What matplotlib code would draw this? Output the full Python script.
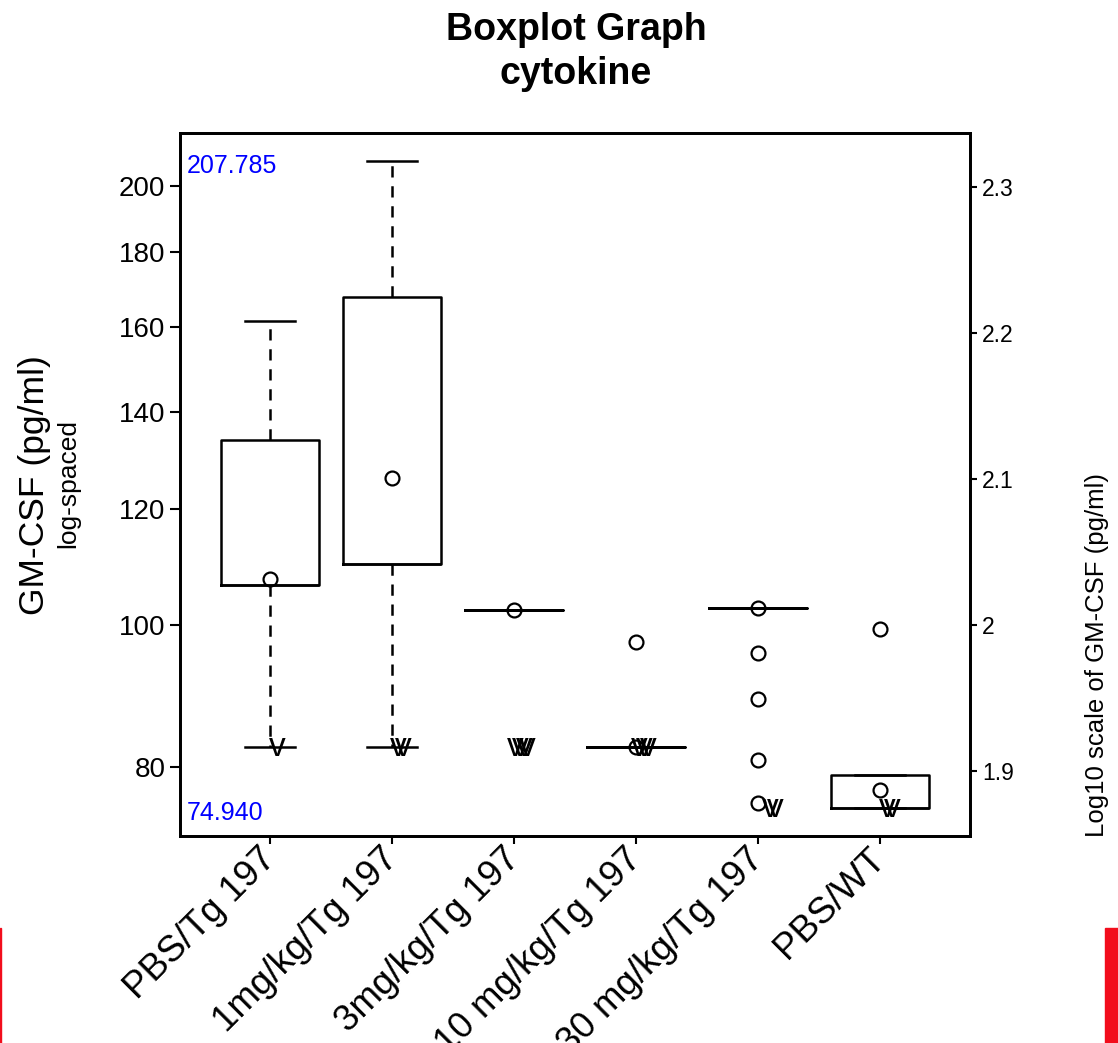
import numpy as np
import matplotlib
matplotlib.use("Agg")
import matplotlib.pyplot as plt
import matplotlib.transforms as mtransforms
from matplotlib.patches import Rectangle
from matplotlib.ticker import NullLocator

plt.rcParams['font.family'] = ['Liberation Sans', 'DejaVu Sans']

# data
groups = ['PBS/Tg 197', '1mg/kg/Tg 197', '3mg/kg/Tg 197',
          '10 mg/kg/Tg 197', '30 mg/kg/Tg 197', 'PBS/WT']
q1 = [106.5, 110.1, 102.4, 82.5, 102.7, 74.94]
q3 = [133.9, 167.8, 102.4, 82.5, 102.7, 78.9]
whisk_lo = [82.5, 82.5, np.nan, np.nan, np.nan, np.nan]
whisk_hi = [161.6, 207.785, np.nan, np.nan, np.nan, np.nan]
points = [
    [107.5],
    [126.1],
    [102.4],
    [97.4, 82.5],
    [102.7, 95.7, 89.0, 80.8, 75.5],
    [99.4, 77.1],
]
# values below detection limit, drawn as "v"
lod_value = [82.5, 82.5, 82.5, 82.5, 74.94, 74.94]
lod_count = [1, 2, 4, 3, 2, 2]
data_max = 207.785
data_min = 74.940

left_ticks = [80, 100, 120, 140, 160, 180, 200]
right_ticks = [1.9, 2.0, 2.1, 2.2, 2.3]
right_labels = ['1.9', '2', '2.1', '2.2', '2.3']

# small horizontal jitter of the "v" marks (layout only)
v_jitter = [[0.06], [0.05, 0.09], [0.01, 0.05, 0.08, 0.11],
            [0.03, 0.07, 0.10], [0.10, 0.14], [0.06, 0.10]]

fig = plt.figure(figsize=(11.18, 10.43), dpi=100)
ax = fig.add_axes([180 / 1118, 1 - 836 / 1043, 790 / 1118, 703 / 1043])

pos = np.arange(1, len(groups) + 1)
stats = []
for i in range(len(groups)):
    lo = whisk_lo[i] if not np.isnan(whisk_lo[i]) else q1[i]
    hi = whisk_hi[i] if not np.isnan(whisk_hi[i]) else q3[i]
    stats.append(dict(med=q1[i], q1=q1[i], q3=q3[i], whislo=lo, whishi=hi,
                      fliers=[]))

lw = 1.8
ax.bxp(stats, positions=pos, widths=0.8, capwidths=0.41, showfliers=False,
       boxprops=dict(color='black', linewidth=lw),
       medianprops=dict(color='black', linewidth=lw),
       whiskerprops=dict(color='black', linewidth=lw, linestyle=(0, (4.5, 3.5))),
       capprops=dict(color='black', linewidth=lw))

for i, vals in enumerate(points):
    ax.plot([pos[i]] * len(vals), vals, 'o', ms=10, mfc='none', mec='black',
            mew=1.6, zorder=4)

vtrans = mtransforms.offset_copy(ax.transData, fig=fig, x=0, y=-6.5,
                                 units='points')
for i in range(len(groups)):
    for k in range(lod_count[i]):
        ax.text(pos[i] + v_jitter[i][k], lod_value[i], 'v', transform=vtrans,
                ha='center', va='baseline', fontsize=24, color='black',
                zorder=5)

ax.set_yscale('log')
ax.set_ylim(71.7, 217.3)
ax.set_xlim(0.26, 6.74)
ax.yaxis.set_minor_locator(NullLocator())
ax.set_yticks(left_ticks, labels=[str(t) for t in left_ticks])
ax.set_xticks(pos, labels=groups)
ax.tick_params(axis='y', labelsize=20, length=7, width=1.5, direction='out')
ax.tick_params(axis='x', length=6, width=1.5, direction='out', pad=2)
shift = mtransforms.ScaledTranslation(-12 / 100, 6 / 100, fig.dpi_scale_trans)
for lab in ax.get_xticklabels():
    lab.set_rotation(45)
    lab.set_ha('right')
    lab.set_va('top')
    lab.set_rotation_mode('anchor')
    lab.set_fontsize(26.5)
    lab.set_transform(lab.get_transform() + shift)
for sp in ax.spines.values():
    sp.set_linewidth(2)

ax.text(0.009, 0.953, f'{data_max:.3f}', transform=ax.transAxes, color='blue',
        fontsize=18, ha='left', va='center')
ax.text(0.009, 0.033, f'{data_min:.3f}', transform=ax.transAxes, color='blue',
        fontsize=18, ha='left', va='center')

ax2 = ax.twinx()
ax2.set_ylim(np.log10(71.7), np.log10(217.3))
ax2.set_yticks(right_ticks, labels=right_labels)
ax2.tick_params(axis='y', labelsize=16.5, length=5, width=1.5)
for sp in ax2.spines.values():
    sp.set_linewidth(2)

fig.text(35 / 1118, 1 - 485 / 1043, 'GM-CSF (pg/ml)', rotation=90,
         fontsize=25.5, ha='center', va='center')
fig.text(68 / 1118, 1 - 484 / 1043, 'log-spaced', rotation=90,
         fontsize=19, ha='center', va='center')
fig.text(1097 / 1118, 1 - 655 / 1043, 'Log10 scale of GM-CSF (pg/ml)',
         rotation=90, fontsize=18.5, ha='center', va='center')

fig.text(576 / 1118, 1 - 12 / 1043, 'Boxplot Graph\ncytokine', fontsize=27,
         fontweight='bold', ha='center', va='top', linespacing=1.28)

# red edge marks at the bottom corners of the original image
fig.patches.append(Rectangle((0, 0), 1.5 / 1118, 115 / 1043,
                             transform=fig.transFigure, color='#f20d1c'))
fig.patches.append(Rectangle((1105 / 1118, 0), 13 / 1118, 115 / 1043,
                             transform=fig.transFigure, color='#f20d1c'))

fig.savefig('out.png', dpi=100)
